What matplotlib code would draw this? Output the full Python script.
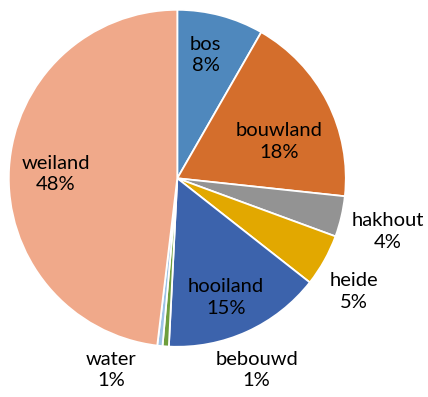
import matplotlib.pyplot as plt

labels = ['bos', 'bouwland', 'hakhout', 'heide', 'hooiland', 'bebouwd', 'water', 'weiland']
values = [8.3, 18.4, 3.9, 5.0, 15.2, 0.6, 0.5, 48.1]
pct_text = ['8%', '18%', '4%', '5%', '15%', '1%', '1%', '48%']
colors = ['#4F88BD', '#D46E2C', '#939393', '#E2A800', '#3C63AC', '#6E9E3C', '#9DC3E6', '#F0A98A']

# label positions in pixel coords (x, y from top)
label_pos = [(205.7, 55), (279.3, 141.7), (387.7, 231.7), (354, 291.7),
             (226, 297.7), (256.7, 370), (111, 370), (55.7, 174)]

W, H = 428, 397
fig = plt.figure(figsize=(W / 100, H / 100), dpi=100)
ax = fig.add_axes([0, 0, 1, 1])

ax.pie(values, colors=colors, startangle=90, counterclock=False,
       center=(177.3, H - 178.3), radius=168.5,
       wedgeprops=dict(edgecolor='white', linewidth=1.3))

ax.set_xlim(0, W)
ax.set_ylim(0, H)
ax.set_aspect('equal')
ax.axis('off')

for lab, p, (x, y) in zip(labels, pct_text, label_pos):
    ax.text(x, H - y, lab + '\n' + p, ha='center', va='center',
            fontsize=14.5, family='Lato', color='black', linespacing=1.35)

fig.savefig('out.png', dpi=100)
